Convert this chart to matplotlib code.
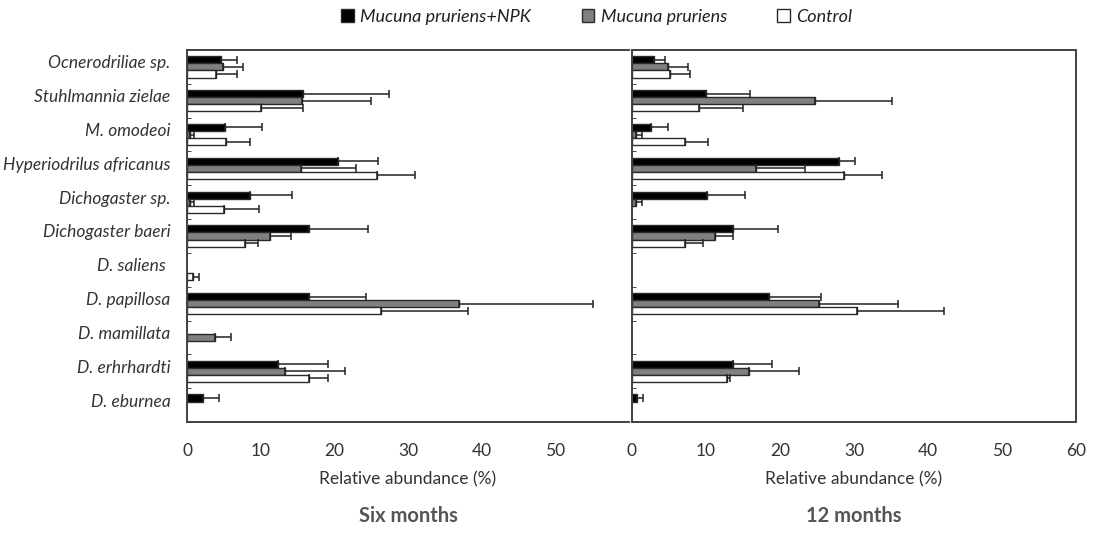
import numpy as np
import matplotlib.pyplot as plt
from matplotlib.patches import Patch
from matplotlib.transforms import ScaledTranslation

plt.rcParams['font.family'] = ['Lato', 'DejaVu Sans']

nan = np.nan

species = ['Ocnerodriliae sp.', 'Stuhlmannia zielae', 'M. omodeoi', 'Hyperiodrilus africanus',
           'Dichogaster sp.', 'Dichogaster baeri', 'D. saliens ', 'D. papillosa',
           'D. mamillata', 'D. erhrhardti', 'D. eburnea']
treatments = ['Mucuna pruriens+NPK', 'Mucuna pruriens', 'Control']

# six months
six_npk = [4.6, 15.8, 5.2, 20.5, 8.5, 16.5, nan, 16.6, nan, 12.3, 2.2]
six_npk_sd = [2.2, 11.6, 5.0, 5.4, 5.7, 8.1, nan, 7.7, nan, 6.8, 2.2]
six_muc = [4.9, 15.6, 0.4, 15.5, 0.4, 11.3, nan, 36.9, 3.8, 13.3, nan]
six_muc_sd = [2.7, 9.4, 0.5, 7.4, 0.5, 2.8, nan, 18.2, 2.2, 8.1, nan]
six_ctl = [4.0, 10.0, 5.3, 25.8, 5.0, 7.9, 0.8, 26.3, nan, 16.6, nan]
six_ctl_sd = [2.8, 5.8, 3.3, 5.1, 4.8, 1.7, 0.8, 11.9, nan, 2.6, nan]

# 12 months
twl_npk = [3.0, 10.0, 2.6, 28.0, 10.2, 13.6, nan, 18.5, nan, 13.6, 0.7]
twl_npk_sd = [1.5, 5.9, 2.3, 2.2, 5.1, 6.1, nan, 7.1, nan, 5.3, 0.8]
twl_muc = [4.9, 24.7, 0.5, 16.7, 0.5, 11.2, nan, 25.3, nan, 15.8, nan]
twl_muc_sd = [2.7, 10.4, 0.8, 6.7, 0.8, 2.4, nan, 10.7, nan, 6.8, nan]
twl_ctl = [5.2, 9.0, 7.2, 28.6, nan, 7.1, nan, 30.4, nan, 12.8, nan]
twl_ctl_sd = [2.7, 6.0, 3.1, 5.2, nan, 2.5, nan, 11.8, nan, 0.4, nan]

colors = ['#000000', '#808080', '#ffffff']
edge = '#2a2a2a'
txt = '#333333'

fig = plt.figure(figsize=(10.93, 5.33), dpi=100)
ax1 = fig.add_axes([0.1711, 0.2083, 0.4044, 0.6979])
ax2 = fig.add_axes([0.5782, 0.2083, 0.4062, 0.6979])

y = np.arange(len(species))
h = 0.21
offsets = [-h, 0, h]


def draw(ax, series, sds):
    for vals, sd, off, c in zip(series, sds, offsets, colors):
        vals = np.array(vals, dtype=float)
        sd = np.array(sd, dtype=float)
        ok = ~np.isnan(vals)
        ax.barh(y[ok] + off, vals[ok], height=h, color=c, edgecolor=edge, linewidth=1.0, zorder=2)
        ax.errorbar(vals[ok], y[ok] + off, xerr=[np.zeros(ok.sum()), sd[ok]], fmt='none',
                    ecolor='#222222', elinewidth=1.1, capsize=3, capthick=1.1, zorder=3)
    ax.set_xlim(0, 60)
    ax.set_ylim(len(species) - 0.5, -0.5)
    ax.set_xticks(range(0, 61, 10))
    ax.set_yticks(y)
    ax.set_yticks(np.arange(-0.5, len(species), 1), minor=True)
    ax.tick_params(axis='x', length=0, pad=15, labelsize=12.5, colors=txt)
    ax.tick_params(axis='y', which='major', length=0)
    ax.tick_params(axis='y', which='minor', direction='in', length=3, color=edge)
    for s in ax.spines.values():
        s.set_color('#404040')
        s.set_linewidth(1.4)
    ax.set_xlabel('Relative abundance (%)', fontsize=12.5, color=txt, labelpad=9)


draw(ax1, [six_npk, six_muc, six_ctl], [six_npk_sd, six_muc_sd, six_ctl_sd])
draw(ax2, [twl_npk, twl_muc, twl_ctl], [twl_npk_sd, twl_muc_sd, twl_ctl_sd])

ax1.set_yticklabels(species, fontstyle='italic', fontsize=12.5, color=txt)
ax1.tick_params(axis='y', which='major', pad=12)
shift = ScaledTranslation(0, 0.05, fig.dpi_scale_trans)
for lab in ax1.get_yticklabels():
    lab.set_transform(lab.get_transform() + shift)
ax1.set_xticklabels(['0', '10', '20', '30', '40', '50', ''])
ax1.spines['right'].set_visible(False)
ax2.set_yticklabels([])

ax1.text(0.5, -0.252, 'Six months', transform=ax1.transAxes, ha='center', va='center',
         fontsize=14.5, fontweight='bold', color='#555555')
ax2.text(0.5, -0.252, '12 months', transform=ax2.transAxes, ha='center', va='center',
         fontsize=14.5, fontweight='bold', color='#555555')

handles = [Patch(facecolor=c, edgecolor=edge, linewidth=1.0) for c in colors]
fig.legend(handles, treatments, loc='center', bbox_to_anchor=(0.546, 0.968), ncol=3,
           frameon=False, prop={'style': 'italic', 'size': 13}, handlelength=0.7,
           handleheight=0.7, handletextpad=0.35, columnspacing=2.8, labelcolor='#222222')

fig.savefig('out.png', dpi=100)
